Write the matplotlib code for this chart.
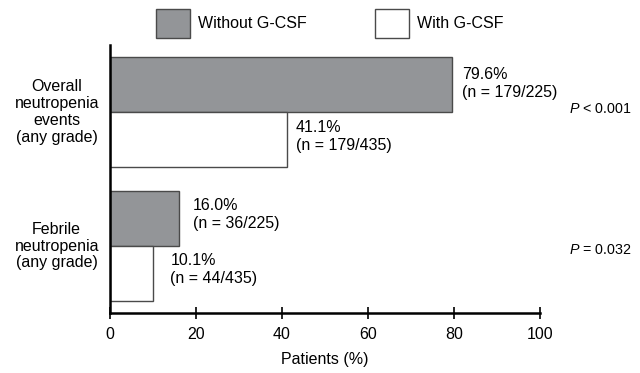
import matplotlib
matplotlib.use("Agg")
import matplotlib.pyplot as plt
from matplotlib.patches import Rectangle

plt.rcParams['font.family'] = ['Liberation Sans', 'DejaVu Sans']
plt.rcParams['mathtext.fontset'] = 'custom'
plt.rcParams['mathtext.it'] = 'Liberation Sans:italic'
plt.rcParams['mathtext.rm'] = 'Liberation Sans'

categories = ["Overall\nneutropenia\nevents\n(any grade)", "Febrile\nneutropenia\n(any grade)"]
without_gcsf = [79.6, 16.0]
with_gcsf = [41.1, 10.1]
without_n = ["179/225", "36/225"]
with_n = ["179/435", "44/435"]
p_values = ["< 0.001", "= 0.032"]
series = ["Without G-CSF", "With G-CSF"]

gray = "#939598"
edge = "#4a4a4a"
FS = 11.5

fig = plt.figure(figsize=(6.4, 3.73), dpi=100)
ax = fig.add_axes([110/640, 1-313/373, 430/640, 268/373])

centers = [0.5, 1.5]
h = 0.41
for i, c in enumerate(centers):
    ax.barh(c - h/2, without_gcsf[i], height=h, color=gray, edgecolor=edge, linewidth=1)
    ax.barh(c + h/2, with_gcsf[i], height=h, color="white", edgecolor=edge, linewidth=1)

# value labels (offsets in pixels: dx, dy-up)
offs_without = [(10, 1), (14, 4)]
offs_with = [(9, 3), (17, 4)]
for i, c in enumerate(centers):
    ax.annotate(f"{without_gcsf[i]:.1f}%\n(n = {without_n[i]})", (without_gcsf[i], c - h/2),
                xytext=offs_without[i], textcoords="offset pixels",
                ha="left", va="center", fontsize=FS, linespacing=1.2)
    ax.annotate(f"{with_gcsf[i]:.1f}%\n(n = {with_n[i]})", (with_gcsf[i], c + h/2),
                xytext=offs_with[i], textcoords="offset pixels",
                ha="left", va="center", fontsize=FS, linespacing=1.2)

ax.set_xlim(0, 100)
ax.set_ylim(2, 0)
ax.set_xticks([0, 20, 40, 60, 80, 100])
ax.tick_params(axis='x', direction='inout', length=8, width=1.2, labelsize=11.5, pad=6)
ax.set_yticks([])
for s in ["top", "right"]:
    ax.spines[s].set_visible(False)
for s in ["left", "bottom"]:
    ax.spines[s].set_linewidth(1.8)
ax.set_xlabel("Patients (%)", fontsize=FS, labelpad=7)

p_y = [0.48, 1.53]
for i, c in enumerate(centers):
    ax.text(-12.4, c, categories[i], ha="center", va="center", fontsize=FS, linespacing=1.15)
    ax.annotate("$P$ " + p_values[i], (1.0, p_y[i]), xycoords=("axes fraction", "data"),
                xytext=(29, 0), textcoords="offset pixels", ha="left", va="center", fontsize=10.3,
                annotation_clip=False)

# legend
W, H = 640, 373
fig.patches.append(Rectangle((156/W, 1-38/H), 34/W, 29/H, transform=fig.transFigure,
                             facecolor=gray, edgecolor=edge, linewidth=1))
fig.text(198/W, 1-23/H, series[0], ha="left", va="center", fontsize=FS)
fig.patches.append(Rectangle((375/W, 1-38/H), 34/W, 29/H, transform=fig.transFigure,
                             facecolor="white", edgecolor=edge, linewidth=1))
fig.text(417/W, 1-23/H, series[1], ha="left", va="center", fontsize=FS)

fig.savefig("out.png", dpi=100)
